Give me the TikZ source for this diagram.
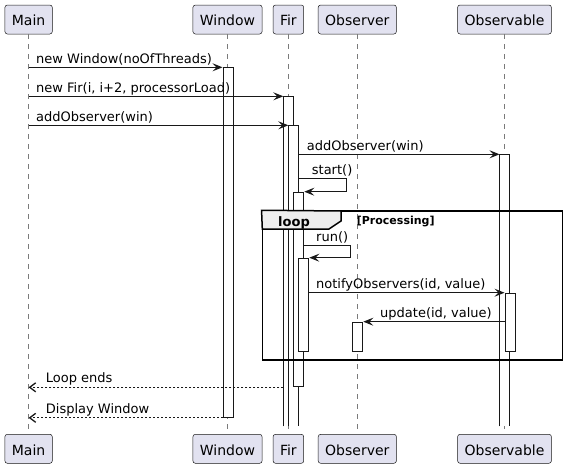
\documentclass[tikz,border=0pt]{standalone}
\usepackage{fontspec}
\setmainfont{DejaVu Sans}
\usetikzlibrary{arrows.meta}
\definecolor{ink}{HTML}{181818}
\definecolor{partfill}{HTML}{E2E2F0}
\definecolor{tabfill}{HTML}{EEEEEE}
\definecolor{lifegray}{HTML}{7A7A7A}
\begin{document}
\begin{tikzpicture}[x=1pt,y=-1pt,
 part/.style={draw=ink, line width=0.5pt, fill=partfill, rounded corners=2.5pt, minimum height=29pt, inner xsep=7pt, inner ysep=0pt, text height=12.7pt, text depth=0pt, font=\fontsize{14}{16}\selectfont},
 lifeline/.style={draw=lifegray, line width=0.6pt, dash pattern=on 5pt off 5pt},
 actbox/.style={draw=ink, line width=1pt, fill=white, minimum width=10pt, inner sep=0pt, anchor=north west},
 openact/.style={draw=none, fill=white, minimum width=10pt, inner sep=0pt, anchor=north west},
 actside/.style={draw=ink, line width=1pt},
 msg/.style={draw=ink, line width=1pt, -{Stealth[length=10pt,width=8pt,inset=4pt]}},
 ret/.style={draw=ink, line width=1pt, dash pattern=on 2pt off 2pt, -{Straight Barb[length=6pt,width=9pt,line width=1.3pt]}},
 lbl/.style={anchor=base west, inner sep=0pt, font=\fontsize{13}{15}\selectfont},
 framebox/.style={draw=black, line width=1.5pt},
]
\useasboundingbox (0,0) rectangle (567,469);

% participants
\node[part] (pMain) at (28.6,19.5) {Main};
\node[part] (pWin) at (227.5,19.5) {Window};
\node[part] (pFir) at (288.4,19.5) {Fir};
\node[part] (pObs) at (357.3,19.5) {Observer};
\node[part] (pObl) at (504.5,19.5) {Observable};
\node[part] (qMain) at (28.6,448.8) {Main};
\node[part] (qWin) at (227.5,448.8) {Window};
\node[part] (qFir) at (288.4,448.8) {Fir};
\node[part] (qObs) at (357.3,448.8) {Observer};
\node[part] (qObl) at (504.5,448.8) {Observable};

% lifelines
\draw[lifeline] (pMain.south) -- (qMain.north);
\draw[lifeline] (pWin.south) -- (qWin.north);
\draw[lifeline] (pFir.south) -- (qFir.north);
\draw[lifeline] (pObs.south) -- (qObs.north);
\draw[lifeline] (pObl.south) -- (qObl.north);

% activations
\node[actbox, minimum height=349.5pt] (aWin) at (222.5,67.3) {};
\node[openact, minimum height=329.7pt] (aFir1) at (283.3,96.3) {};
\draw[actside] (aFir1.south west) -- (aFir1.north west) -- (aFir1.north east) -- (aFir1.south east);
\node[openact, minimum height=300.7pt] (aFir2) at (288.3,125.3) {};
\draw[actside] (aFir2.south west) -- (aFir2.north west) -- (aFir2.north east) -- (aFir2.south east);
\node[actbox, minimum height=194.6pt] (aFir3) at (293.3,191.7) {};
\node[actbox, minimum height=93.3pt] (aFir4) at (298.3,257.7) {};
\node[openact, minimum height=271.7pt] (aObl1) at (499.5,154.3) {};
\draw[actside] (aObl1.south west) -- (aObl1.north west) -- (aObl1.north east) -- (aObl1.south east);
\node[actbox, minimum height=58.3pt] (aObl2) at (504.5,292.7) {};
\node[actbox, minimum height=29.3pt] (aObs) at (352.3,321.7) {};

% loop frame
\node[framebox, minimum width=300.4pt, minimum height=149pt, inner sep=0pt] (loopF) at (412.5,285.5) {};
\filldraw[framebox, fill=tabfill] (loopF.north west) -- (341,211) -- (341,221) -- (329,229) -- (262.3,229) -- cycle;
\node[anchor=base west, inner sep=0pt, font=\fontsize{13}{15}\bfseries] (loopT) at (278,226) {loop};
\node[anchor=base west, inner sep=0pt, font=\fontsize{11}{13}\bfseries] (loopG) at (356.7,224.5) {[Processing]};

% labels
\node[lbl] (l1) at (36,63.3) {new Window(noOfThreads)};
\node[lbl] (l2) at (36,92.3) {new Fir(i, i+2, processorLoad)};
\node[lbl] (l3) at (36,121.3) {addObserver(win)};
\node[lbl] (l4) at (306.7,150.3) {addObserver(win)};
\node[lbl] (l5) at (311.7,174.5) {start()};
\node[lbl] (l6) at (316,241.7) {run()};
\node[lbl] (l7) at (316,288.7) {notifyObservers(id, value)};
\node[lbl] (l8) at (380,317.7) {update(id, value)};
\node[lbl] (l9) at (45.7,382.8) {Loop ends};
\node[lbl] (l10) at (45.7,413.3) {Display Window};

% messages
\draw[msg] (pMain |- aWin.north) -- (aWin.north west);
\draw[msg] (pMain |- aFir1.north) -- (aFir1.north west);
\draw[msg] (pMain |- aFir2.north) -- (aFir2.north west);
\draw[msg] (aFir2.east |- aObl1.north) -- (aObl1.north west);
\coordinate (s5) at (298.3,178.5);
\draw[msg] (s5) -- ++(47.7,0) |- (aFir3.north east);
\coordinate (s6) at (303.3,245.7);
\draw[msg] (s6) -- ++(47.4,0) |- (aFir4.north east);
\draw[msg] (aFir4.east |- aObl2.north) -- (aObl2.north west);
\draw[msg] (aObl2.west |- aObs.north) -- (aObs.north east);
\draw[ret] (aFir1.west |- aFir3.south) -- (pMain |- aFir3.south);
\draw[ret] (aWin.south west) -- (pMain |- aWin.south);
\end{tikzpicture}
\end{document}
